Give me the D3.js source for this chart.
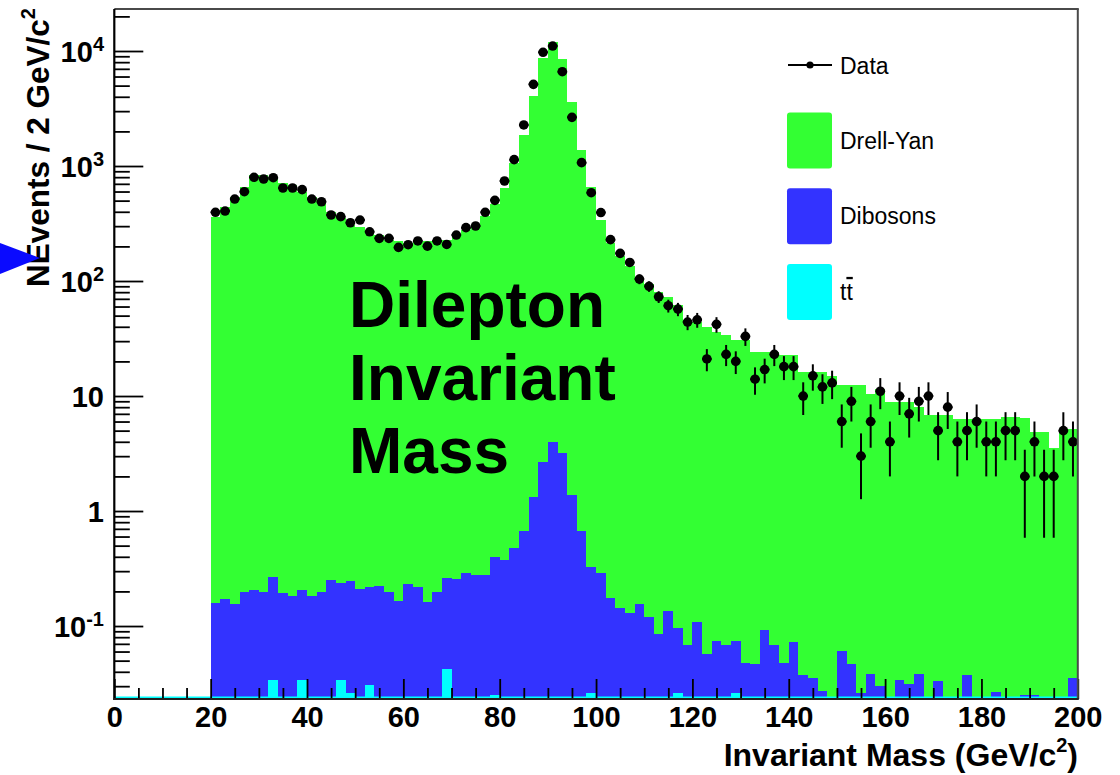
<!DOCTYPE html>
<html>
<head>
<meta charset="utf-8">
<script src="https://cdn.jsdelivr.net/npm/d3@7"></script>
<style>
  html, body { margin: 0; padding: 0; background: #fff; }
  svg { display: block; font-family: "Liberation Sans", Arial, Helvetica, sans-serif; }
</style>
</head>
<body>
<svg id="chart" width="1120" height="775"></svg>
<script>
// ---- histogram binning: 100 bins of 2 GeV from 0 to 200 GeV ----
const binWidth = 2;
const massLow = d3.range(0, 200, binWidth);

// observed events per bin
const dataCounts = [
  0, 0, 0, 0, 0, 0, 0, 0, 0, 0,
  396, 406, 516, 598, 798, 771, 791, 644, 644, 623,
  516, 489, 375, 363, 321, 339, 268, 235, 235, 196,
  207, 223, 201, 223, 208, 251, 291, 301, 396, 503,
  741, 1136, 2276, 5130, 9750, 11050, 6610, 2650, 1070, 586,
  394, 229, 174, 145, 104, 90, 73, 61, 57, 44,
  46, 21, 42, 23, 20, 33, 14, 17, 23, 18,
  18, 10, 15, 12, 13, 6, 9, 3, 6, 11,
  4, 10, 7, 9, 10, 5, 8, 4, 5, 6,
  4, 4, 5, 5, 2, 4, 2, 2, 5, 4
];

// expected Drell-Yan events per bin
const drellYan = [
  0, 0, 0, 0, 0, 0, 0, 0, 0, 0,
  361.8, 442.8, 540.8, 660.8, 829.8, 839.8, 809.7, 715.8, 683.8, 599.8,
  540.8, 474.8, 400.7, 350.8, 309.8, 296.8, 267.8, 250.8, 227.8, 224.8,
  214.8, 217.8, 221.8, 224.8, 227.7, 250.7, 274.7, 299.7, 366.7, 469.6,
  639.6, 1054.5, 1861, 4064, 8627, 12046, 8467, 3619, 1376, 660.7,
  339.7, 214.8, 164.9, 134.9, 106.8, 94.9, 79.9, 71.9, 61.9, 45.9,
  43.9, 39.9, 35.9, 33.9, 30.9, 30.95, 24.25, 24.2, 24.2, 22.65,
  22.6, 16.26, 16.26, 16.27, 14.9, 12.44, 12.45, 12.47, 10.46, 11.37,
  8.9, 8.87, 8.87, 8.06, 6.8, 6.77, 6.8, 6.3, 6.26, 6.3,
  6.3, 6.27, 6.6, 6.6, 6.47, 4.87, 4.9, 3.5, 5.2, 5.16
];

// expected diboson events per bin
const dibosons = [
  0, 0, 0, 0, 0, 0, 0, 0, 0, 0,
  0.160, 0.171, 0.156, 0.199, 0.204, 0.199, 0.235, 0.192, 0.182, 0.170,
  0.182, 0.199, 0.251, 0.204, 0.219, 0.211, 0.186, 0.224, 0.199, 0.166,
  0.230, 0.217, 0.162, 0.199, 0.218, 0.255, 0.287, 0.277, 0.277, 0.376,
  0.375, 0.480, 0.670, 1.33, 2.69, 3.96, 3.18, 1.38, 0.670, 0.302,
  0.287, 0.176, 0.143, 0.131, 0.155, 0.119, 0.0855, 0.134, 0.0695, 0.0688,
  0.108, 0.0571, 0.0745, 0.0684, 0.0485, 0.0473, 0.0464, 0.0923, 0.0684, 0.0473,
  0.0726, 0.0375, 0.0351, 0.0274, 0, 0.0607, 0.0464, 0.026, 0.0385, 0.0303,
  0, 0.0341, 0.0313, 0.0385, 0, 0.033, 0, 0, 0.0372, 0,
  0, 0.0269, 0, 0, 0.0251, 0.0251, 0, 0, 0, 0.0353
];

// expected ttbar events per bin
const ttbar = [
  0, 0, 0, 0, 0, 0, 0, 0, 0, 0,
  0, 0, 0, 0, 0, 0, 0.034, 0, 0, 0.034,
  0, 0, 0, 0.034, 0.026, 0, 0.031, 0, 0, 0,
  0, 0, 0, 0, 0.042, 0, 0, 0, 0, 0.025,
  0, 0, 0, 0, 0, 0, 0, 0, 0, 0.026,
  0, 0, 0, 0, 0, 0, 0, 0, 0.026, 0,
  0, 0, 0, 0, 0.026, 0, 0, 0, 0, 0,
  0, 0, 0, 0, 0, 0, 0, 0, 0, 0,
  0, 0, 0, 0, 0, 0, 0, 0, 0, 0,
  0, 0, 0, 0, 0, 0, 0, 0, 0, 0
];

const xTickMajor = [0, 20, 40, 60, 80, 100, 120, 140, 160, 180, 200];
const yTickMajor = [0.1, 1, 10, 100, 1000, 10000];
const yTickLabels = [["10", "-1"], ["1", ""], ["10", ""], ["10", "2"], ["10", "3"], ["10", "4"]];

const legendItems = [
  { label: "Drell-Yan", color: "#33ff33" },
  { label: "Dibosons", color: "#3333ff" },
  { label: "tt", color: "#00ffff" }
];

const colors = { dy: "#33ff33", vv: "#3333ff", tt: "#00ffff" };

// ---- frame & scales ----
const svg = d3.select("#chart");
const frame = { left: 114.3, right: 1077.8, top: 9, bottom: 699 };

const x = d3.scaleLinear().domain([0, 200]).range([frame.left, frame.right]);
const y = d3.scaleLog().domain([0.0232, 23190]).range([frame.bottom, frame.top]);
const yc = v => (v > y.domain()[0] ? y(v) : frame.bottom);

svg.append("defs").append("clipPath").attr("id", "plotClip")
  .append("rect")
  .attr("x", frame.left).attr("y", frame.top)
  .attr("width", frame.right - frame.left).attr("height", frame.bottom - frame.top);

const plot = svg.append("g").attr("clip-path", "url(#plotClip)");

// ---- stacked histograms ----
const ttTop = ttbar.slice();
const vvTop = ttbar.map((v, i) => v + dibosons[i]);
const dyTop = vvTop.map((v, i) => v + drellYan[i]);

function stepPoints(tops) {
  const pts = massLow.map((m, i) => ({ m, v: tops[i] }));
  pts.push({ m: 200, v: tops[tops.length - 1] });
  return pts;
}

const area = d3.area()
  .x(d => x(d.m))
  .y0(frame.bottom)
  .y1(d => yc(d.v))
  .curve(d3.curveStepAfter);

[[dyTop, colors.dy], [vvTop, colors.vv], [ttTop, colors.tt]].forEach(([tops, c]) => {
  plot.append("path")
    .datum(stepPoints(tops))
    .attr("d", area)
    .attr("fill", c)
    .attr("stroke", "none")
    .attr("shape-rendering", "crispEdges");
});

// ttbar histogram line along the floor of the plot
plot.append("rect")
  .attr("x", x(0)).attr("y", frame.bottom - 2.5)
  .attr("width", x(200) - x(0)).attr("height", 2.5)
  .attr("fill", colors.tt);

// ---- data points with Poisson errors ----
const pts = dataCounts.map((n, i) => ({ m: massLow[i] + binWidth / 2, n }))
  .filter(d => d.n > 0);

const dataG = plot.append("g");
dataG.selectAll("line.ey").data(pts).join("line")
  .attr("class", "ey")
  .attr("x1", d => x(d.m)).attr("x2", d => x(d.m))
  .attr("y1", d => yc(d.n + Math.sqrt(d.n)))
  .attr("y2", d => yc(Math.max(d.n - Math.sqrt(d.n), 1e-6)))
  .attr("stroke", "#000").attr("stroke-width", 2);
dataG.selectAll("line.ex").data(pts).join("line")
  .attr("class", "ex")
  .attr("x1", d => x(d.m - binWidth / 2)).attr("x2", d => x(d.m + binWidth / 2))
  .attr("y1", d => y(d.n)).attr("y2", d => y(d.n))
  .attr("stroke", "#000").attr("stroke-width", 2);
dataG.selectAll("circle").data(pts).join("circle")
  .attr("cx", d => x(d.m)).attr("cy", d => y(d.n)).attr("r", 4.8)
  .attr("fill", "#000");

// ---- axes ----
const tickStyle = g => {
  g.selectAll(".tick line").attr("stroke", "#000").attr("stroke-width", 1.8);
  g.select(".domain").remove();
};

// x axis: major every 20, minor every 5 GeV
const xMinor = d3.range(0, 201, 5).filter(v => v % 20 !== 0);
svg.append("g").attr("transform", `translate(0,${frame.bottom})`)
  .call(d3.axisBottom(x).tickValues(xMinor).tickSize(-11).tickFormat(""))
  .call(tickStyle);
const xAxisG = svg.append("g").attr("transform", `translate(0,${frame.bottom})`)
  .call(d3.axisBottom(x).tickValues(xTickMajor).tickSize(-20).tickPadding(7).tickFormat(d3.format("d")))
  .call(tickStyle);
xAxisG.selectAll(".tick text")
  .attr("fill", "#000")
  .attr("font-family", "'Liberation Sans', Arial, sans-serif")
  .attr("font-size", 29).attr("font-weight", "bold");

// y axis: decades with 2..9 minor ticks
const yMinor = [];
for (let e = -2; e <= 4; e++) {
  for (let k = 2; k <= 9; k++) {
    const v = k * Math.pow(10, e);
    if (v > y.domain()[0] && v < y.domain()[1]) yMinor.push(v);
  }
}
svg.append("g").attr("transform", `translate(${frame.left},0)`)
  .call(d3.axisLeft(y).tickValues(yMinor).tickSize(-15.5).tickFormat(""))
  .call(tickStyle);
svg.append("g").attr("transform", `translate(${frame.left},0)`)
  .call(d3.axisLeft(y).tickValues(yTickMajor).tickSize(-29).tickFormat(""))
  .call(tickStyle);

// y tick labels with exponents
yTickMajor.forEach((v, i) => {
  const [base, exp] = yTickLabels[i];
  const t = svg.append("text")
    .attr("x", 104).attr("y", y(v) + 10.5)
    .attr("text-anchor", "end")
    .attr("font-size", 29).attr("font-weight", "bold").attr("fill", "#000");
  t.append("tspan").text(base);
  if (exp) {
    t.append("tspan").attr("dy", -11).attr("font-size", 20).text(exp);
  }
});

// frame lines
svg.append("line").attr("x1", frame.left).attr("x2", frame.right + 1)
  .attr("y1", frame.top).attr("y2", frame.top)
  .attr("stroke", "#4a4a4a").attr("stroke-width", 2);
svg.append("line").attr("x1", frame.right).attr("x2", frame.right)
  .attr("y1", frame.top).attr("y2", frame.bottom)
  .attr("stroke", "#4a4a4a").attr("stroke-width", 2);
svg.append("line").attr("x1", frame.left).attr("x2", frame.left)
  .attr("y1", frame.top).attr("y2", frame.bottom + 1)
  .attr("stroke", "#000").attr("stroke-width", 2.2);
svg.append("line").attr("x1", frame.left - 1).attr("x2", frame.right + 1)
  .attr("y1", frame.bottom).attr("y2", frame.bottom)
  .attr("stroke", "#222").attr("stroke-width", 2.2);

// axis titles
const xTitle = svg.append("text")
  .attr("x", 1078).attr("y", 766)
  .attr("text-anchor", "end")
  .attr("font-size", 32).attr("font-weight", "bold").attr("fill", "#000");
xTitle.append("tspan").text("Invariant Mass (GeV/c");
xTitle.append("tspan").attr("dy", -14).attr("font-size", 20).text("2");
xTitle.append("tspan").attr("dy", 14).text(")");

const yTitle = svg.append("text")
  .attr("transform", "translate(49,8) rotate(-90)")
  .attr("text-anchor", "end")
  .attr("font-size", 31.5).attr("font-weight", "bold").attr("fill", "#000");
yTitle.append("tspan").text("NEvents / 2 GeV/c");
yTitle.append("tspan").attr("dy", -14).attr("font-size", 20).text("2");

// ---- legend ----
const leg = svg.append("g");
leg.append("line").attr("x1", 788).attr("x2", 832).attr("y1", 65).attr("y2", 65)
  .attr("stroke", "#000").attr("stroke-width", 1.8);
leg.append("circle").attr("cx", 810).attr("cy", 65).attr("r", 3.6).attr("fill", "#000");
leg.append("text").attr("x", 840).attr("y", 73.5)
  .attr("font-size", 23).attr("fill", "#000").text("Data");

legendItems.forEach((it, i) => {
  const top = 112.5 + i * 75.7;
  leg.append("rect").attr("x", 787).attr("y", top).attr("width", 45).attr("height", 56)
    .attr("rx", 3).attr("fill", it.color);
  const t = leg.append("text").attr("x", 840).attr("y", top + 36)
    .attr("font-size", 23).attr("fill", "#000");
  if (it.label === "tt") {
    t.append("tspan").text("t");
    t.append("tspan").style("text-decoration", "overline").text("t");
  } else {
    t.text(it.label);
  }
});

// ---- caption over the plot ----
const caption = ["Dilepton", "Invariant", "Mass"];
svg.append("g").selectAll("text").data(caption).join("text")
  .attr("x", 349).attr("y", (d, i) => 327 + i * 73)
  .attr("font-size", 64).attr("font-weight", "bold").attr("fill", "#000")
  .text(d => d);

// pointer arrow at the left edge
svg.append("path")
  .attr("d", d3.line()([[0, 243], [40, 258], [0, 274]]) + "Z")
  .attr("fill", "#0a0aff");
</script>
</body>
</html>
